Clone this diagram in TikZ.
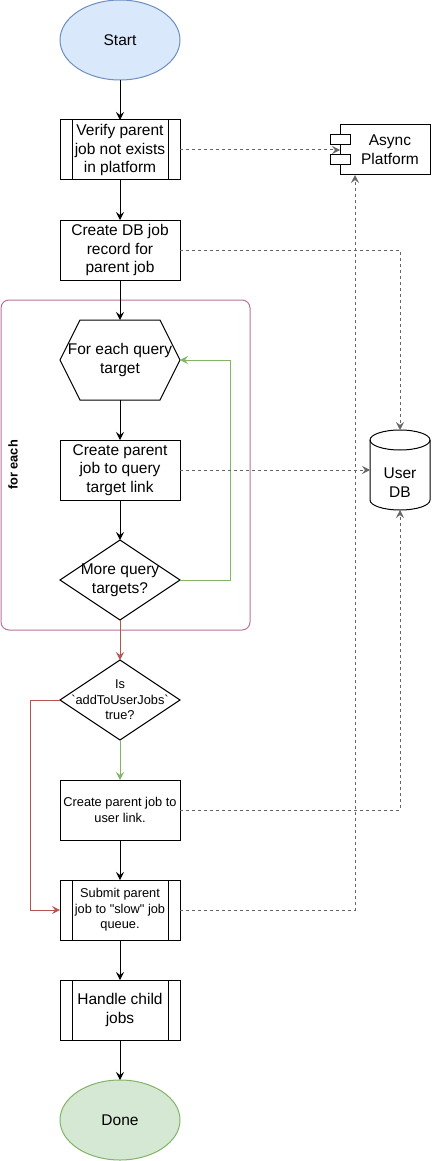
\documentclass[tikz,border=0pt]{standalone}
\usepackage{fontspec}
\setmainfont{Liberation Sans}
\usetikzlibrary{arrows.meta,shapes.geometric,calc}
\definecolor{startfill}{HTML}{DAE8FC}
\definecolor{startline}{HTML}{6C8EBF}
\definecolor{donefill}{HTML}{D5E8D4}
\definecolor{greenline}{HTML}{82B366}
\definecolor{redline}{HTML}{B85450}
\definecolor{loopline}{HTML}{B5739D}
\definecolor{dashgray}{HTML}{666666}
\begin{document}
\begin{tikzpicture}[x=1pt,y=-1pt,
  >={Stealth[length=8pt,width=8pt,inset=3pt]},
  every node/.style={inner sep=0pt, outer sep=0pt, align=center, text=black},
  big/.style={font=\fontsize{15.5}{18.7}\selectfont},
  small/.style={font=\fontsize{12.8}{15.5}\selectfont},
  box/.style={draw, line width=1pt, rectangle, minimum width=120pt, minimum height=60pt},
  proc/.style={box, path picture={
      \draw[line width=1pt] ([xshift=12pt]path picture bounding box.north west) -- ([xshift=12pt]path picture bounding box.south west);
      \draw[line width=1pt] ([xshift=-12pt]path picture bounding box.north east) -- ([xshift=-12pt]path picture bounding box.south east);}},
  term/.style={ellipse, draw, line width=1pt, minimum width=120pt, minimum height=80pt},
  dec/.style={diamond, draw, line width=1pt, minimum width=120pt, minimum height=80pt},
  flow/.style={->, line width=1pt},
  yes/.style={flow, draw=greenline, >={Stealth[length=8pt,width=8pt,inset=3pt,fill=greenline]}},
  no/.style={flow, draw=redline},
  dep/.style={->, line width=1pt, draw=dashgray, dash pattern=on 3pt off 3pt}
]
\useasboundingbox (0,0) rectangle (431,1161);

% loop container
\node[draw=loopline, line width=1pt, rounded corners=8pt, minimum width=249pt, minimum height=330pt] (loop) at (125.5,465) {};
\node[rotate=90, font=\fontsize{12.8}{15}\selectfont\bfseries] (looplabel) at (13,465) {for each};

% main flow
\node[term, fill=startfill, draw=startline, big] (start) at (120,40) {Start};
\node[proc, big] (verify) at (120,150) {Verify parent\\job not exists\\in platform};
\node[box, big] (dbrec) at (120,250) {Create DB job\\record for\\parent job};
\node[minimum width=120pt, minimum height=80pt, big] (hex) at (120,360) {For each query\\target};
\draw[line width=1pt] (hex.west) -- ([xshift=20pt]hex.north west) -- ([xshift=-20pt]hex.north east) -- (hex.east) -- ([xshift=-20pt]hex.south east) -- ([xshift=20pt]hex.south west) -- cycle;
\node[box, big] (link) at (120,470) {Create parent\\job to query\\target link};
\node[dec, label={[big]center:{More query\\targets?}}] (more) at (120,580) {};
\node[dec, label={[small]center:{Is\\\textasciigrave addToUserJobs\textasciigrave\\true?}}] (isadd) at (120,700) {};
\node[box, small] (userlink) at (120,810) {Create parent job to\\user link.};
\node[proc, small] (submit) at (120,910) {Submit parent\\job to \textquotedbl slow\textquotedbl{} job\\queue.};
\node[proc, big] (handle) at (120,1010) {Handle child\\jobs};
\node[term, fill=donefill, draw=greenline, big] (done) at (120,1120) {Done};

% right side
\node[draw, line width=1pt, minimum width=90pt, minimum height=50pt, label={[big, xshift=5pt]center:{Async\\Platform}}] (async) at (385,150) {};
\draw[line width=1pt, fill=white] ([shift={(-10,10)}]async.north west) rectangle ++(20,10);
\draw[line width=1pt, fill=white] ([shift={(-10,30)}]async.north west) rectangle ++(20,10);

\node[minimum width=60pt, minimum height=80pt, label={[big, yshift=-13pt]center:{User\\DB}}] (db) at (400,470) {};
\draw[line width=1pt] ([yshift=-10pt]db.north west) -- ([yshift=10pt]db.south west)
  arc[start angle=180, end angle=360, x radius=30pt, y radius=10pt]
  -- ([yshift=-10pt]db.north east)
  arc[start angle=0, end angle=180, x radius=30pt, y radius=10pt] -- cycle;
\draw[line width=1pt] ([yshift=-10pt]db.north west) arc[start angle=180, end angle=360, x radius=30pt, y radius=10pt];

% connectors
\draw[flow] (start) -- (verify);
\draw[flow] (verify) -- (dbrec);
\draw[flow] (dbrec) -- (hex);
\draw[flow] (hex) -- (link);
\draw[flow] (link) -- (more);
\draw[yes] (more.east) -- ++(50,0) |- (hex.east);
\draw[no] (more.south) -- (isadd.north);
\draw[yes] (isadd.south) -- (userlink);
\draw[no] (isadd.west) -- ++(-30,0) |- (submit.west);
\draw[flow] (userlink) -- (submit);
\draw[flow] (submit) -- (handle);
\draw[flow] (handle) -- (done);

\draw[dep] (verify.east) -- (async.west);
\draw[dep] (dbrec.east) -| (db.north);
\draw[dep] (link.east) -- (db.west);
\draw[dep] (userlink.east) -| (db.south);
\draw[dep] (submit.east) -| ([xshift=15pt]async.south west);
\end{tikzpicture}
\end{document}
